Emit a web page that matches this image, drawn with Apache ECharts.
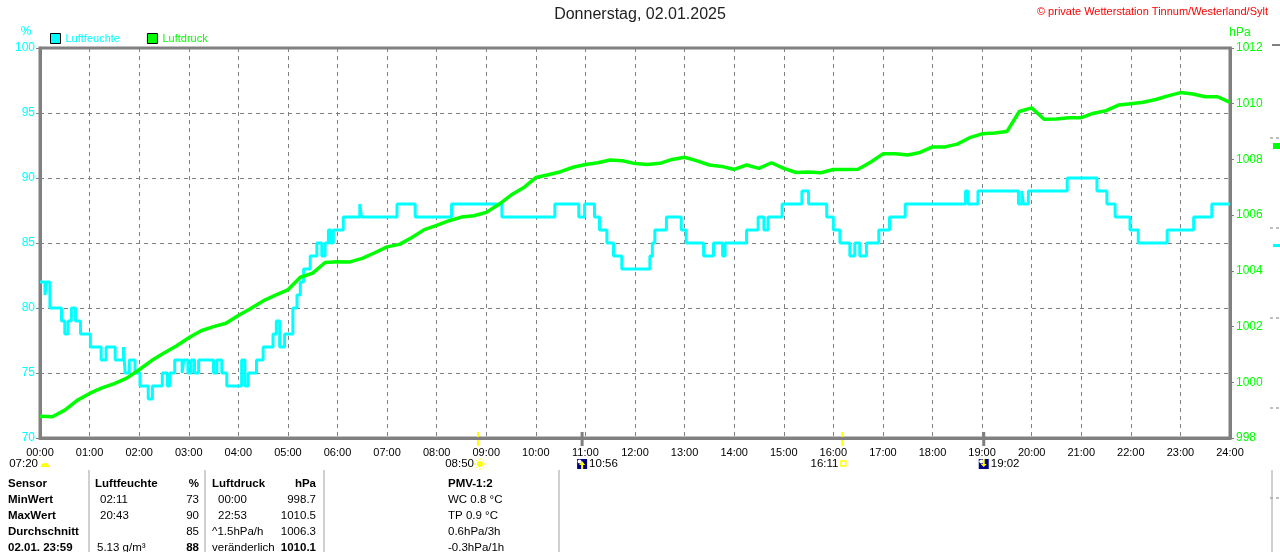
<!DOCTYPE html>
<html><head><meta charset="utf-8">
<script src="https://cdn.jsdelivr.net/npm/echarts@6/dist/echarts.min.js"></script>
<style>html,body{margin:0;padding:0;background:#fff}#c{width:1280px;height:552px}</style>
</head><body><div id="c"></div>
<script>
const FONT = 'Liberation Sans';
const titleText = 'Donnerstag, 02.01.2025';
const copyrightText = '\u00A9 private Wetterstation Tinnum/Westerland/Sylt';
const hourLabels = ['00:00','01:00','02:00','03:00','04:00','05:00','06:00','07:00','08:00','09:00','10:00','11:00','12:00',
  '13:00','14:00','15:00','16:00','17:00','18:00','19:00','20:00','21:00','22:00','23:00','24:00'];

// Luftfeuchte (%): step changes, time in decimal hours -> value holds until next time
const humHours = [0,0.1,0.13,0.2,0.44,0.5,0.57,0.64,0.71,0.81,1.01,1.24,1.34,1.51,1.68,1.71,1.8,1.92,2.02,2.18,2.27,2.46,2.56,2.62,2.72,
  2.86,2.9,2.98,3.05,3.12,3.2,3.5,3.57,3.67,3.77,4.07,4.13,4.2,4.37,4.5,4.7,4.77,4.84,4.94,5.1,5.18,5.25,5.31,5.45,5.59,5.69,5.75,5.82,
  5.86,5.91,6.12,6.45,6.49,7.2,7.56,8.3,9.32,10.39,10.86,10.99,11.19,11.29,11.43,11.56,11.73,12.3,12.35,12.4,12.64,12.94,13.04,13.38,13.58,
  13.77,13.81,14.25,14.49,14.6,14.69,14.96,15.36,15.5,15.87,16.0,16.14,16.34,16.44,16.54,16.67,16.91,17.14,17.45,18.66,18.72,18.92,
  19.73,19.8,19.83,19.93,20.71,21.32,21.52,21.68,21.98,22.15,22.73,23.26,23.64,24];
const humValues = [82,81,82,80,79,78,79,80,79,78,77,76,77,76,77,75,76,75,74,73,74,75,74,75,76,
  75,76,75,76,75,76,75,76,75,74,76,74,75,76,77,78,79,77,78,80,81,82,83,84,85,84,85,86,
  85,86,87,88,87,88,87,88,87,88,87,88,87,86,85,84,83,84,85,86,87,86,85,84,85,
  84,85,86,87,86,87,88,89,88,87,86,85,84,85,84,85,86,87,88,89,88,89,
  88,89,88,89,90,89,88,87,86,85,86,87,88,88];

// Luftdruck (hPa), every 15 minutes from 00:00 to 24:00
const pressure = [998.78,998.76,999.0,999.35,999.6,999.8,999.95,1000.15,1000.45,1000.78,1001.05,1001.3,1001.6,1001.85,1002.0,1002.12,
  1002.4,1002.65,1002.92,1003.13,1003.32,1003.77,1003.92,1004.3,1004.33,1004.32,1004.45,1004.65,1004.86,1004.95,1005.2,1005.48,
  1005.63,1005.8,1005.93,1005.98,1006.1,1006.38,1006.72,1006.98,1007.35,1007.45,1007.56,1007.72,1007.82,1007.88,1007.98,1007.95,
  1007.85,1007.82,1007.86,1008.0,1008.08,1007.95,1007.8,1007.75,1007.64,1007.8,1007.68,1007.88,1007.68,1007.53,1007.55,1007.52,
  1007.64,1007.64,1007.65,1007.9,1008.2,1008.2,1008.16,1008.25,1008.45,1008.45,1008.55,1008.78,1008.92,1008.95,1009.0,1009.72,
  1009.85,1009.44,1009.45,1009.5,1009.5,1009.66,1009.75,1009.95,1010.0,1010.05,1010.15,1010.28,1010.4,1010.35,1010.25,1010.25,1010.05];

// sun / moon events under the time axis
const dawnTime = '07:20';
const eventTimes = ['08:50','10:56','16:11','19:02'];
const eventKinds = ['sunrise','moonrise','sunset','moonset'];

// statistics table
const rowLabels = ['Sensor','MinWert','MaxWert','Durchschnitt','02.01. 23:59'];
const humCol = ['Luftfeuchte','02:11','20:43','','5.13 g/m\u00B3'];
const humUnitCol = ['%','73','90','85','88'];
const presCol = ['Luftdruck','00:00','22:53','^1.5hPa/h','ver\u00E4nderlich'];
const presUnitCol = ['hPa','998.7','1010.5','1006.3','1010.1'];
const pmvCol = ['PMV-1:2','WC 0.8 \u00B0C','TP 0.9 \u00B0C','0.6hPa/3h','-0.3hPa/1h'];

const CYAN = '#00FFFF', GREEN = '#00FF00', GRAY = '#808080';
const toMin = s => { const p = s.split(':'); return (+p[0]) * 60 + (+p[1]); };

const chart = echarts.init(document.getElementById('c'), null, {renderer: 'canvas'});

function txt(x, y, text, opt) {
  return {type: 'text', x: x, y: y, silent: true, style: Object.assign({text: text, fill: '#000',
    font: (opt && opt.bold ? 'bold ' : '') + ((opt && opt.size) || 11.5) + 'px "' + FONT + '"',
    textAlign: (opt && opt.align) || 'left', textVerticalAlign: 'middle'}, opt && opt.style)};
}

const staticGraphic = [];
staticGraphic.push(txt(26, 32, '%', {size: 12, style: {fill: CYAN}, align: 'center'}));
staticGraphic.push(txt(1240, 33, 'hPa', {size: 12, style: {fill: GREEN}, align: 'center'}));
staticGraphic.push(txt(1268, 12, copyrightText, {size: 11, style: {fill: '#FF0000'}, align: 'right'}));

// table
const rowY = [484, 500, 516, 532, 548];
rowY.forEach((y, i) => {
  staticGraphic.push(txt(8, y, rowLabels[i], {bold: true}));
  staticGraphic.push(txt(i === 0 ? 95 : (i === 4 ? 97 : 100), y, humCol[i], {bold: i === 0}));
  staticGraphic.push(txt(199, y, humUnitCol[i], {bold: i === 0 || i === 4, align: 'right'}));
  staticGraphic.push(txt((i === 1 || i === 2) ? 218 : 212, y, presCol[i], {bold: i === 0}));
  staticGraphic.push(txt(316, y, presUnitCol[i], {bold: i === 0 || i === 4, align: 'right'}));
  staticGraphic.push(txt(448, y, pmvCol[i], {bold: i === 0}));
});
[89, 205, 324, 559].forEach(x => {
  staticGraphic.push({type: 'line', silent: true, shape: {x1: x, y1: 470, x2: x, y2: 552}, style: {stroke: '#A0A0A0', lineWidth: 1}});
});
// fragments at the right edge
staticGraphic.push({type: 'line', silent: true, shape: {x1: 1272, y1: 45, x2: 1280, y2: 45}, style: {stroke: GRAY, lineWidth: 2}});
[138, 228, 318, 408, 498].forEach(y => {
  staticGraphic.push({type: 'line', silent: true, shape: {x1: 1270, y1: y, x2: 1280, y2: y}, style: {stroke: GRAY, lineWidth: 1, lineDash: [3, 3]}});
});
staticGraphic.push({type: 'rect', silent: true, shape: {x: 1273, y: 143, width: 7, height: 6}, style: {fill: GREEN}});
staticGraphic.push({type: 'rect', silent: true, shape: {x: 1273, y: 244, width: 7, height: 3}, style: {fill: CYAN}});
staticGraphic.push({type: 'line', silent: true, shape: {x1: 1272, y1: 470, x2: 1272, y2: 552}, style: {stroke: '#A0A0A0', lineWidth: 1}});

const option = {
  animation: false,
  backgroundColor: '#fff',
  textStyle: {fontFamily: FONT},
  title: {text: titleText, left: 'center', top: 7, padding: 0,
    textStyle: {fontSize: 16, fontWeight: 'normal', color: '#222', fontFamily: FONT}},
  legend: {left: 50, top: 33, padding: 0, itemWidth: 10, itemHeight: 10, itemGap: 27, icon: 'rect',
    itemStyle: {borderColor: '#000', borderWidth: 1},
    textStyle: {fontSize: 11, fontFamily: FONT},
    data: [{name: 'Luftfeuchte', textStyle: {color: CYAN}}, {name: 'Luftdruck', textStyle: {color: GREEN}}]},
  grid: {left: 40, right: 50, top: 48, bottom: 114, show: true, borderColor: GRAY, borderWidth: 3, backgroundColor: 'transparent'},
  xAxis: {type: 'value', min: 0, max: 1440, interval: 60,
    axisLine: {lineStyle: {color: GRAY, width: 3}},
    axisTick: {show: false},
    axisLabel: {formatter: v => hourLabels[Math.round(v / 60)], color: '#000', fontSize: 11, margin: 9, fontFamily: FONT,
      showMinLabel: true, showMaxLabel: true},
    splitLine: {show: true, lineStyle: {color: GRAY, width: 1, type: [4, 4]}}},
  yAxis: [
    {type: 'value', min: 70, max: 100, interval: 5, position: 'left',
      axisLine: {show: true, lineStyle: {color: GRAY, width: 3}},
      axisTick: {show: true, length: 4, lineStyle: {color: GRAY, width: 1}},
      axisLabel: {color: CYAN, fontSize: 12, margin: 5, fontFamily: FONT, formatter: v => String(v)},
      splitLine: {show: true, lineStyle: {color: GRAY, width: 1, type: [4, 4]}}},
    {type: 'value', min: 998, max: 1012, interval: 2, position: 'right',
      axisLine: {show: true, lineStyle: {color: GRAY, width: 3}},
      axisTick: {show: true, length: 4, lineStyle: {color: GRAY, width: 1}},
      axisLabel: {color: GREEN, fontSize: 12, margin: 6, fontFamily: FONT, formatter: v => String(v)},
      splitLine: {show: false}}
  ],
  series: [
    {name: 'Luftfeuchte', type: 'line', step: 'end', yAxisIndex: 0, showSymbol: false, symbol: 'none',
      data: humHours.map((h, i) => [Math.round(h * 60), humValues[i]]),
      lineStyle: {color: CYAN, width: 3}, itemStyle: {color: CYAN}, z: 2},
    {name: 'Luftdruck', type: 'line', yAxisIndex: 1, showSymbol: false, symbol: 'none',
      data: pressure.map((p, i) => [i * 15, p]),
      lineStyle: {color: GREEN, width: 3.5}, itemStyle: {color: GREEN}, z: 3}
  ],
  graphic: staticGraphic
};
chart.setOption(option);

// event markers placed through the x axis scale
const evGraphic = [];
const LY = 464;
const x0 = chart.convertToPixel({xAxisIndex: 0}, 0);
evGraphic.push(txt(x0 - 2, LY, dawnTime, {align: 'right'}));
evGraphic.push({type: 'sector', silent: true, shape: {cx: x0 + 5, cy: LY + 3, r0: 0, r: 4, startAngle: Math.PI, endAngle: 2 * Math.PI}, style: {fill: '#FFFF00'}});
eventTimes.forEach((t, i) => {
  const x = chart.convertToPixel({xAxisIndex: 0}, toMin(t));
  const kind = eventKinds[i];
  if (kind === 'sunrise' || kind === 'sunset') {
    evGraphic.push({type: 'line', silent: true, shape: {x1: x, y1: 432, x2: x, y2: 446}, style: {stroke: '#FFFF00', lineWidth: 2}});
    evGraphic.push(txt(x - 4, LY, t, {align: 'right'}));
    if (kind === 'sunrise') {
      evGraphic.push({type: 'circle', silent: true, shape: {cx: x + 2, cy: LY, r: 3}, style: {fill: '#FFFF00'}});
      for (let k = 0; k < 8; k++) {
        const a = k * Math.PI / 4;
        evGraphic.push({type: 'line', silent: true, shape: {x1: x + 2 + Math.cos(a) * 4, y1: LY + Math.sin(a) * 4, x2: x + 2 + Math.cos(a) * 6, y2: LY + Math.sin(a) * 6}, style: {stroke: '#FFFF00', lineWidth: 1}});
      }
    } else {
      evGraphic.push({type: 'rect', silent: true, shape: {x: x - 1.5, y: LY - 3, width: 5, height: 5}, style: {fill: '#fff', stroke: '#FFFF00', lineWidth: 1.5}});
    }
  } else {
    evGraphic.push({type: 'line', silent: true, shape: {x1: x, y1: 432, x2: x, y2: 446}, style: {stroke: GRAY, lineWidth: 3}});
    evGraphic.push({type: 'rect', silent: true, shape: {x: x - 5, y: LY - 5, width: 10, height: 10}, style: {fill: '#000080'}});
    evGraphic.push({type: 'circle', silent: true, shape: {cx: x - 2.5, cy: LY - 2.5, r: 2}, style: {fill: '#fff'}});
    const up = kind === 'moonrise';
    const pts = up ?
      [[x, LY - 3], [x + 3, LY + 1], [x + 1, LY + 1], [x + 1, LY + 5], [x - 1, LY + 5], [x - 1, LY + 1], [x - 3, LY + 1]] :
      [[x - 1, LY - 5], [x + 1, LY - 5], [x + 1, LY], [x + 3, LY], [x, LY + 3], [x - 3, LY], [x - 1, LY]];
    evGraphic.push({type: 'polygon', silent: true, shape: {points: pts}, style: {fill: '#FFFF00'}});
    evGraphic.push(txt(x + 7, LY, t, {align: 'left'}));
  }
});
chart.setOption({graphic: staticGraphic.concat(evGraphic)});
</script>
</body></html>
